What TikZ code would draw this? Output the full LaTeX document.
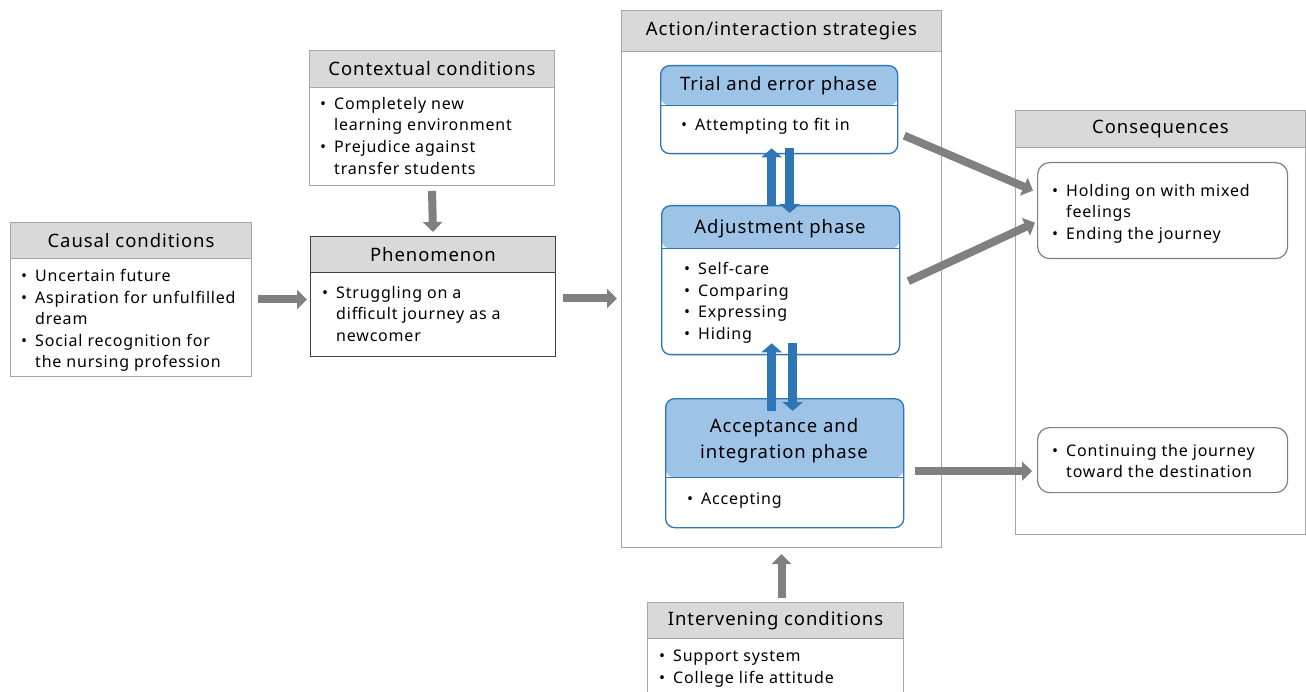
\documentclass[tikz,border=0pt]{standalone}
\usepackage{fontspec}
\setmainfont{Noto Sans}[LetterSpace=5]
\usetikzlibrary{arrows.meta}
\definecolor{hdr}{HTML}{D9D9D9}
\definecolor{bdr}{HTML}{A6A6A6}
\definecolor{dbdr}{HTML}{404040}
\definecolor{bluehd}{HTML}{9DC3E6}
\definecolor{bluebd}{HTML}{2E75B6}
\definecolor{garr}{HTML}{808080}
\newcommand\bu{\makebox[14pt][l]{•}}
\newcommand\ind{\hspace*{14pt}}
\tikzset{
 bbox/.style={draw=bdr, fill=white, line width=1pt, anchor=north west, inner sep=0},
 hbox/.style={draw=bdr, fill=hdr, line width=1pt, anchor=north west, inner sep=0, align=center, font=\fontsize{18.5}{25}\selectfont},
 ttl/.style={font=\fontsize{18.5}{26}\selectfont, align=center, inner sep=0},
 bodytext/.style={font=\fontsize{16}{21.6}\selectfont, align=left, anchor=north west, inner sep=0},
 phase/.style={draw=bluebd, fill=white, rounded corners=9pt, line width=1.3pt, anchor=north west, inner sep=0,
   path picture={\fill[bluehd] (path picture bounding box.north west) rectangle ([yshift=-#1]path picture bounding box.north east);
     \draw[bluebd, line width=1.3pt] ([yshift=-#1]path picture bounding box.north west) -- ([yshift=-#1]path picture bounding box.north east);}},
 cbox/.style={draw=garr, fill=white, rounded corners=12pt, line width=1.2pt, anchor=north west, inner sep=0},
 garrow/.style={draw=garr, line width=8pt, -{Triangle[width=19pt,length=10pt]}},
 barrow/.style={draw=bluebd, line width=9pt, -{Triangle[width=20pt,length=9pt]}},
}
% [border colour] name, x1, y1, x2, yheader, y2, title
\newcommand\hbx[8][bdr]{%
 \node[bbox, draw=#1, minimum width={#5-#3}, minimum height={#7-#4}] (#2) at (#3,#4) {};
 \node[hbox, draw=#1, minimum width={#5-#3}, minimum height={#6-#4}] (#2H) at (#3,#4) {#8};
}
\begin{document}
\begin{tikzpicture}[x=1pt,y=-1pt]
\useasboundingbox (0,0) rectangle (1306,692);

% Causal conditions
\hbx{causal}{10}{222}{251}{258}{376}{Causal conditions}
\node[bodytext] (causalT) at (21,269) {\bu Uncertain future\\\bu Aspiration for unfulfilled\\\ind dream\\\bu Social recognition for\\\ind the nursing profession};

% Contextual conditions
\hbx{context}{309}{50}{554}{87}{185}{Contextual conditions}
\node[bodytext] (contextT) at (320,97) {\bu Completely new\\\ind learning environment\\\bu Prejudice against\\\ind transfer students};

% Phenomenon
\hbx[dbdr]{phen}{310}{236}{555}{272}{356}{Phenomenon}
\node[bodytext] (phenT) at (322,286) {\bu Struggling on a\\\ind difficult journey as a\\\ind newcomer};

% Action/interaction strategies
\hbx{action}{621}{10}{941}{51}{547}{Action/interaction strategies}

% Phases
\node[phase=40pt, minimum width=237, minimum height=88] (trial) at (660,65) {};
\node[ttl] (trialT) at (778.5,86) {Trial and error phase};
\node[bodytext] (trialB) at (681,118) {\bu Attempting to fit in};

\node[phase=43pt, minimum width=238, minimum height=149] (adjust) at (661,205) {};
\node[ttl] (adjustT) at (780,229) {Adjustment phase};
\node[bodytext] (adjustB) at (684,262) {\bu Self-care\\\bu Comparing\\\bu Expressing\\\bu Hiding};

\node[phase=79pt, minimum width=238, minimum height=129] (accept) at (665,398) {};
\node[ttl] (acceptT) at (784,441) {Acceptance and\\integration phase};
\node[bodytext] (acceptB) at (687,493) {\bu Accepting};

% Intervening conditions
\hbx{interv}{647}{602}{903}{638}{700}{Intervening conditions}
\node[bodytext] (intervT) at (659,650) {\bu Support system\\\bu College life attitude};

% Consequences
\hbx{conseq}{1015}{110}{1305}{147}{534}{Consequences}
\node[cbox, minimum width=250, minimum height=96] (hold) at (1037,162) {};
\node[bodytext] (holdT) at (1052,184) {\bu Holding on with mixed\\\ind feelings\\\bu Ending the journey};
\node[cbox, minimum width=250, minimum height=65] (cont) at (1037,427) {};
\node[bodytext] (contT) at (1052,444) {\bu Continuing the journey\\\ind toward the destination};

% Gray arrows
\draw[garrow] ([xshift=6pt]causal.east) -- ([xshift=-3pt]phen.west |- causal.east);
\draw[garrow] ([shift={(7,2)}]phen.east) coordinate (p1) -- ([xshift=-4pt]p1 -| action.west);
\draw[garrow] ([yshift=-5pt]context.south) -- ([yshift=4pt]phen.north);
\draw[garrow] ([yshift=4pt]interv.north -| action.south) -- ([yshift=-6pt]action.south);
\draw[garrow] ([shift={(6,26)}]trial.east) -- ([shift={(-4,-20)}]hold.west);
\draw[garrow] ([shift={(8,1)}]adjust.east) -- ([shift={(-2,12)}]hold.west);
\draw[garrow] ([shift={(11,8)}]accept.east) coordinate (a3) -- ([xshift=-5pt]a3 -| cont.west);

% Blue arrows
\draw[barrow] ([xshift=-9pt]adjust.north) -- ([shift={(-7.5,-6)}]trial.south);
\draw[barrow] ([shift={(10.5,-6)}]trial.south) -- ([shift={(9,8)}]adjust.north);
\draw[barrow] ([shift={(-13,13)}]accept.north) -- ([shift={(-9,-12)}]adjust.south);
\draw[barrow] ([shift={(12,-12)}]adjust.south) -- ([shift={(8,13)}]accept.north);
\end{tikzpicture}
\end{document}
